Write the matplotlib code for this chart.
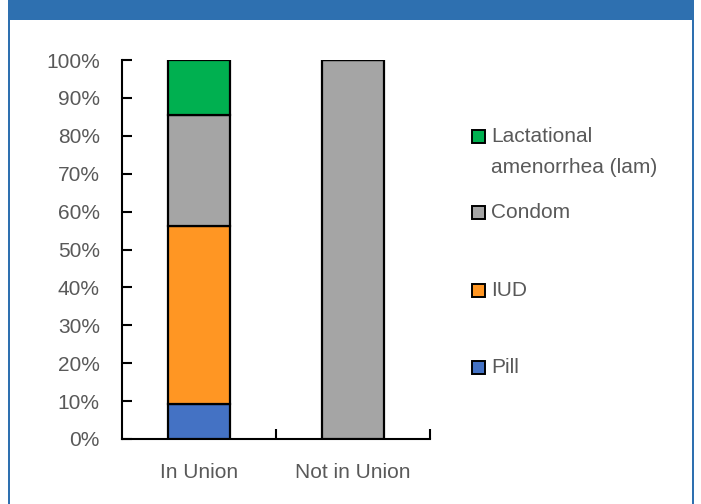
import matplotlib
matplotlib.use("Agg")
import matplotlib.pyplot as plt
from matplotlib.patches import Rectangle
import numpy as np

categories = ["In Union", "Not in Union"]
series_names = ["Pill", "IUD", "Condom", "Lactational\namenorrhea (lam)"]
series_values = {
    "Pill": [0.092, 0.0],
    "IUD": [0.470, 0.0],
    "Condom": [0.293, 1.0],
    "Lactational\namenorrhea (lam)": [0.145, 0.0],
}
series_colors = ["#4472C4", "#FF9623", "#A5A5A5", "#00B050"]
yticks = [0, 0.1, 0.2, 0.3, 0.4, 0.5, 0.6, 0.7, 0.8, 0.9, 1.0]
ytick_labels = ["0%", "10%", "20%", "30%", "40%", "50%", "60%", "70%", "80%", "90%", "100%"]

plt.rcParams['font.family'] = ['Liberation Sans', 'DejaVu Sans']
W, H = 701, 504
fig = plt.figure(figsize=(W / 100, H / 100), dpi=100)
TXT = "#595959"
FS = 15

def fx(px):
    return px / W

def fy(py):
    return 1 - py / H

# frame / header
border = "#2E70B0"
fig.patches.append(Rectangle((fx(8), fy(19.5)), fx(686), 19.5 / H, transform=fig.transFigure,
                             facecolor=border, edgecolor="none", zorder=0))
fig.patches.append(Rectangle((fx(8), 0), fx(2.2), 1, transform=fig.transFigure,
                             facecolor=border, edgecolor="none", zorder=0))
fig.patches.append(Rectangle((fx(691.5), 0), fx(2.2), 1, transform=fig.transFigure,
                             facecolor=border, edgecolor="none", zorder=0))

ax = fig.add_axes([fx(122), fy(439), fx(308), 379 / H])
x = np.arange(len(categories))
bottom = np.zeros(len(categories))
for name, color in zip(series_names, series_colors):
    vals = np.array(series_values[name])
    ax.bar(x, vals, width=0.4, bottom=bottom, color=color, edgecolor="black",
           linewidth=1.6, zorder=3)
    bottom += vals

ax.set_xlim(-0.5, 1.5)
ax.set_ylim(0, 1)
ax.set_yticks(yticks)
ax.set_yticklabels(ytick_labels, color=TXT, fontsize=FS)
ax.tick_params(axis="y", direction="in", length=7, width=1.5, pad=16)
ax.set_xticks([0.5, 1.5])
ax.set_xticklabels([])
ax.tick_params(axis="x", which="major", direction="in", length=7, width=1.5)
ax.set_xticks(x, minor=True)
ax.set_xticklabels(categories, minor=True, color=TXT, fontsize=FS)
ax.tick_params(axis="x", which="minor", length=0, pad=17)
for s in ["top", "right"]:
    ax.spines[s].set_visible(False)
for s in ["left", "bottom"]:
    ax.spines[s].set_linewidth(1.5)
    ax.spines[s].set_color("black")

# legend (top to bottom)
leg_y = [136, 212, 290, 367]
for name, color, py in zip(series_names[::-1], series_colors[::-1], leg_y):
    fig.patches.append(Rectangle((fx(472), fy(py + 6.5)), fx(13), 13 / H, transform=fig.transFigure,
                                 facecolor=color, edgecolor="black", linewidth=1.4, zorder=3))
    fig.text(fx(491), fy(py - 9), name, color=TXT, fontsize=FS, va="top", ha="left",
             linespacing=1.8)

fig.savefig("out.png", dpi=100, facecolor="white")
